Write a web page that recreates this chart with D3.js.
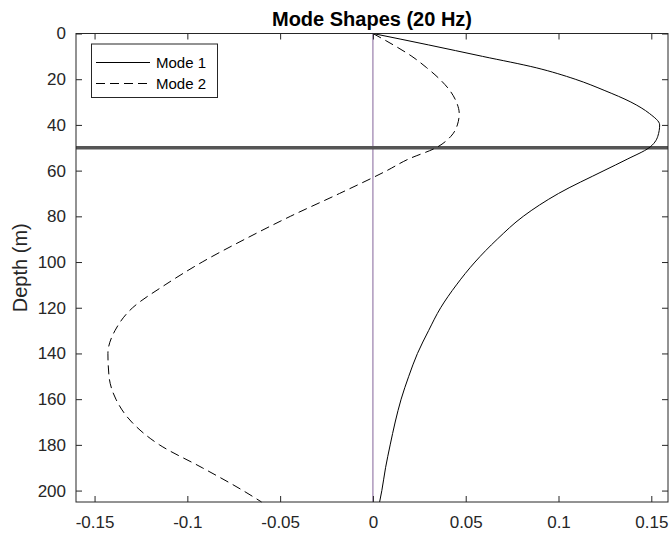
<!DOCTYPE html>
<html>
<head>
<meta charset="utf-8">
<script src="https://cdn.jsdelivr.net/npm/d3@7/dist/d3.min.js"></script>
<style>
  body { margin: 0; background: #fff; }
  svg { display: block; font-family: "Liberation Sans", Arial, sans-serif; }
</style>
</head>
<body>
<script>
// depth samples (m)
var depths = [0, 5, 10, 15, 20, 25, 30, 35, 40, 45, 50, 55, 60, 70, 80, 90, 100,
              110, 120, 130, 140, 150, 160, 170, 180, 190, 200, 205];

// mode amplitudes
var mode1 = [0, 0.030, 0.059, 0.088, 0.109, 0.125, 0.139, 0.149, 0.1545, 0.1535, 0.1488,
             0.137, 0.1245, 0.100, 0.081, 0.067, 0.055, 0.045, 0.0365, 0.030, 0.024,
             0.0193, 0.0152, 0.012, 0.0093, 0.0068, 0.0048, 0.0036];
var mode2 = [0, 0.011, 0.021, 0.029, 0.036, 0.0415, 0.045, 0.0465, 0.0455, 0.042, 0.034,
             0.019, 0.0075, -0.018, -0.0445, -0.069, -0.092, -0.112, -0.1295, -0.139,
             -0.1428, -0.1422, -0.1385, -0.130, -0.115, -0.092, -0.070, -0.060];

var seriesNames = ["Mode 1", "Mode 2"];
var xTicks = [-0.15, -0.1, -0.05, 0, 0.05, 0.1, 0.15];
var yTicks = [0, 20, 40, 60, 80, 100, 120, 140, 160, 180, 200];
var interfaceDepth = 50;
var titleText = "Mode Shapes (20 Hz)";

var width = 670,
    height = 533;

// plot box in pixels
var box = {x0: 76, x1: 668, y0: 33.5, y1: 502};

var svg = d3.select("body").append("svg")
    .attr("width", width)
    .attr("height", height);

var x = d3.scaleLinear().domain([-0.16, 0.159]).range([box.x0, box.x1]);
var y = d3.scaleLinear().domain([0, 205]).range([box.y0, box.y1]);

var axisColor = "#262626";
var fmt = function(d) { return String(d); };

// zero line
svg.append("line")
    .attr("x1", x(0)).attr("x2", x(0))
    .attr("y1", box.y0).attr("y2", box.y1)
    .attr("stroke", "#84639a")
    .attr("stroke-width", 1);

// interface line
svg.append("line")
    .attr("x1", box.x0).attr("x2", box.x1)
    .attr("y1", y(interfaceDepth)).attr("y2", y(interfaceDepth))
    .attr("stroke", "#555")
    .attr("stroke-width", 3.5);

var line = function(vals) {
    return d3.line()
        .x(function(d, i) { return x(vals[i]); })
        .y(function(d) { return y(d); })
        .curve(d3.curveMonotoneY)(depths);
};

svg.append("path")
    .attr("d", line(mode1))
    .attr("fill", "none")
    .attr("stroke", "#000")
    .attr("stroke-width", 1);

svg.append("path")
    .attr("d", line(mode2))
    .attr("fill", "none")
    .attr("stroke", "#000")
    .attr("stroke-width", 1)
    .attr("stroke-dasharray", "9,5");

// axes (ticks inside, box on)
var tickLen = 6;
svg.append("g")
    .attr("transform", "translate(0," + box.y1 + ")")
    .call(d3.axisBottom(x).tickValues(xTicks).tickFormat(fmt).tickSizeInner(-tickLen).tickSizeOuter(0).tickPadding(14))
    .call(function(g) {
        g.select(".domain").remove();
        g.selectAll("line").attr("stroke", axisColor);
        g.selectAll("text").attr("fill", axisColor).attr("font-size", 17).attr("font-family", "Liberation Sans, Arial");
    });

svg.append("g")
    .attr("transform", "translate(0," + box.y0 + ")")
    .call(d3.axisTop(x).tickValues(xTicks).tickFormat("").tickSizeInner(-tickLen).tickSizeOuter(0))
    .call(function(g) {
        g.select(".domain").remove();
        g.selectAll("line").attr("stroke", axisColor);
    });

svg.append("g")
    .attr("transform", "translate(" + box.x0 + ",0)")
    .call(d3.axisLeft(y).tickValues(yTicks).tickFormat(fmt).tickSizeInner(-tickLen).tickSizeOuter(0).tickPadding(10))
    .call(function(g) {
        g.select(".domain").remove();
        g.selectAll("line").attr("stroke", axisColor);
        g.selectAll("text").attr("fill", axisColor).attr("font-size", 17).attr("font-family", "Liberation Sans, Arial");
    });

svg.append("g")
    .attr("transform", "translate(" + box.x1 + ",0)")
    .call(d3.axisRight(y).tickValues(yTicks).tickFormat("").tickSizeInner(-tickLen).tickSizeOuter(0))
    .call(function(g) {
        g.select(".domain").remove();
        g.selectAll("line").attr("stroke", axisColor);
    });

// box
svg.append("rect")
    .attr("x", box.x0).attr("y", box.y0)
    .attr("width", box.x1 - box.x0).attr("height", box.y1 - box.y0)
    .attr("fill", "none")
    .attr("stroke", axisColor)
    .attr("stroke-width", 1);

// title
svg.append("text")
    .attr("x", (box.x0 + box.x1) / 2)
    .attr("y", 26)
    .attr("text-anchor", "middle")
    .attr("font-size", 20)
    .attr("font-weight", "bold")
    .attr("fill", "#000")
    .text(titleText);

// y label
svg.append("text")
    .attr("transform", "translate(27," + ((box.y0 + box.y1) / 2) + ") rotate(-90)")
    .attr("text-anchor", "middle")
    .attr("font-size", 20)
    .attr("fill", axisColor)
    .text("Depth (m)");

// legend
var legend = svg.append("g");
legend.append("rect")
    .attr("x", 91.5).attr("y", 44)
    .attr("width", 126).attr("height", 53.5)
    .attr("fill", "#fff")
    .attr("stroke", axisColor)
    .attr("stroke-width", 1);

var dashes = [null, "9,5"];
var rowY = [62.5, 83.5];
seriesNames.forEach(function(name, i) {
    legend.append("line")
        .attr("x1", 96).attr("x2", 150)
        .attr("y1", rowY[i]).attr("y2", rowY[i])
        .attr("stroke", "#000")
        .attr("stroke-width", 1)
        .attr("stroke-dasharray", dashes[i]);
    legend.append("text")
        .attr("x", 156)
        .attr("y", rowY[i])
        .attr("dy", "0.35em")
        .attr("font-size", 15)
        .attr("fill", "#000")
        .text(name);
});
</script>
</body>
</html>
